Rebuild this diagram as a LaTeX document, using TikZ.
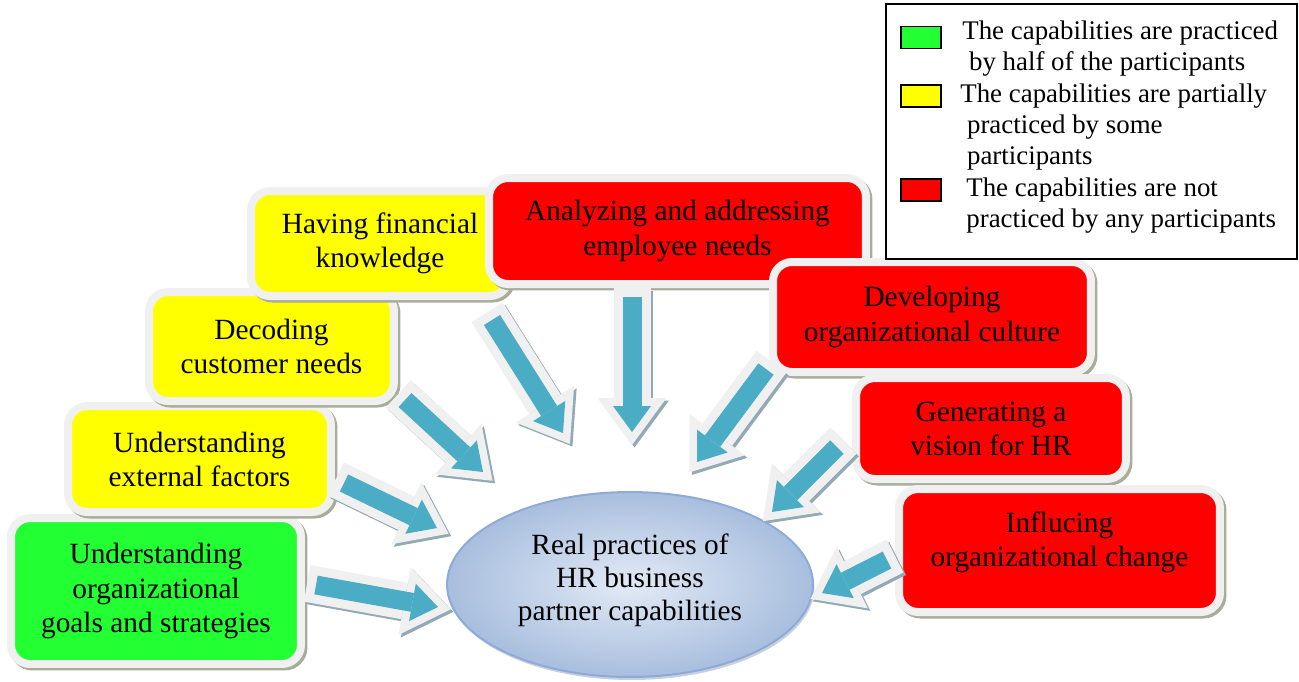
\documentclass[tikz,border=0pt]{standalone}
\usepackage{fontspec}
\setmainfont{Liberation Serif}
\usepackage{xcolor}
\usetikzlibrary{arrows.meta, shapes.geometric, positioning}

\definecolor{capgreen}{RGB}{34,255,51}
\definecolor{capyellow}{RGB}{255,255,0}
\definecolor{capred}{RGB}{255,0,0}
\definecolor{rim}{RGB}{240,240,240}
\definecolor{rimshadow}{RGB}{168,173,152}
\definecolor{flowteal}{RGB}{75,172,198}
\definecolor{flowshade}{RGB}{145,170,182}
\definecolor{hubedge}{RGB}{141,170,216}
\definecolor{hublight}{RGB}{226,234,245}
\definecolor{hubdark}{RGB}{168,190,222}
\definecolor{hubshadow}{RGB}{200,208,220}

\begin{document}
\begin{tikzpicture}[
    x=0.02cm, y=-0.02cm,
    box/.style={draw=rim, line width=0.16cm, rounded corners=0.38cm, inner sep=0pt, align=center,
        font=\fontsize{16.7}{19.4}\selectfont,
        preaction={draw=rimshadow, fill=rimshadow, transform canvas={xshift=0.05cm, yshift=-0.05cm}}},
    hub/.style={ellipse, draw=hubedge, line width=0.04cm, inner sep=0pt, align=center,
        font=\fontsize{16.7}{18.8}\selectfont, inner color=hublight, outer color=hubdark,
        preaction={fill=hubshadow, transform canvas={xshift=0.03cm, yshift=-0.06cm}}},
    key/.style={draw, line width=0.6pt, minimum width=0.8cm, minimum height=0.44cm, inner sep=0pt},
    keytext/.style={anchor=west, align=left, inner sep=0pt, font=\fontsize{15.3}{17.6}\selectfont},
    flow/.style={draw=flowteal, line width=0.38cm,
        -{Triangle[width=0.76cm, length=0.52cm, line width=0pt]},
        preaction={draw=flowshade, line width=0.74cm, shorten <=-0.18cm, shorten >=-0.26cm,
            -{Triangle[width=1.38cm, length=0.94cm, line width=0pt]},
            transform canvas={xshift=0.05cm, yshift=-0.05cm}},
        preaction={draw=rim, line width=0.74cm, shorten <=-0.18cm, shorten >=-0.26cm,
            -{Triangle[width=1.38cm, length=0.94cm, line width=0pt]}}},
]
\useasboundingbox (0,0) rectangle (1299,681);

% Capability boxes, drawn back to front
\node[box, fill=capgreen, minimum width=5.80cm, minimum height=2.92cm] (goals) at (156,591) {Understanding\\organizational\\goals and strategies};
\node[box, fill=capyellow, minimum width=5.26cm, minimum height=2.12cm] (external) at (199.5,459) {Understanding\\external factors};
\node[box, fill=capyellow, minimum width=4.90cm, minimum height=2.18cm] (customer) at (271.5,346.5) {Decoding\\customer needs};
\node[box, fill=capyellow, minimum width=5.16cm, minimum height=2.10cm] (finance) at (380,243.5) {Having financial\\knowledge};
\node[box, fill=capred, minimum width=7.54cm, minimum height=2.12cm] (employee) at (677.5,231) {Analyzing and addressing\\employee needs};
\node[box, fill=capred, minimum width=6.36cm, minimum height=2.20cm] (culture) at (932,317) {Developing\\organizational culture};
\node[box, fill=capred, minimum width=5.40cm, minimum height=2.02cm] (vision) at (991,428.5) {Generating a\\vision for HR};
% text sits high in this one
\node[box, fill=capred, minimum width=6.42cm, minimum height=2.46cm] (change) at (1059.5,550.5) {Influcing\\organizational change\\[-6.7pt]\mbox{}};

% Central practice
\node[hub, minimum width=7.32cm, minimum height=3.70cm] (practice) at (630,584.5) {Real practices of\\HR business\\partner capabilities\\[-10.6pt]\mbox{}};

% Arrow ends
\coordinate (goals-out) at (316,585);    \coordinate (goals-in) at (438,607);
\coordinate (external-out) at (344,483); \coordinate (external-in) at (437,528);
\coordinate (customer-out) at (405,400); \coordinate (customer-in) at (483,472);
\coordinate (finance-out) at (492,320);  \coordinate (finance-in) at (563,433);
\coordinate (employee-out) at (632,297); \coordinate (employee-in) at (632,432);
\coordinate (culture-out) at (766,369);  \coordinate (culture-in) at (697,462);
\coordinate (vision-out) at (837,447);   \coordinate (vision-in) at (772,512);
\coordinate (change-out) at (887,560);   \coordinate (change-in) at (822,593);

\draw[flow] (goals-out) -- (goals-in);
\draw[flow] (external-out) -- (external-in);
\draw[flow] (customer-out) -- (customer-in);
\draw[flow] (finance-out) -- (finance-in);
\draw[flow] (employee-out) -- (employee-in);
\draw[flow] (culture-out) -- (culture-in);
\draw[flow] (vision-out) -- (vision-in);
\draw[flow] (change-out) -- (change-in);

% Legend
\node[draw, line width=0.04cm, fill=white, minimum width=8.22cm, minimum height=5.10cm, inner sep=0pt] (legend) at (1091.5,131.5) {};
\node[key, fill=capgreen] (key-half) at (921,37.5) {};
\node[key, fill=capyellow] (key-some) at (921,96) {};
\node[key, fill=capred] (key-none) at (921,190) {};
\node[keytext] (txt-half) at (962,49) {The capabilities are practiced\\\ by half of the participants};
\node[keytext] (txt-some) at (960,127) {The capabilities are partially\\\ practiced by some\\\ participants};
\node[keytext] (txt-none) at (966,205.5) {The capabilities are not\\practiced by any participants};
\end{tikzpicture}
\end{document}
